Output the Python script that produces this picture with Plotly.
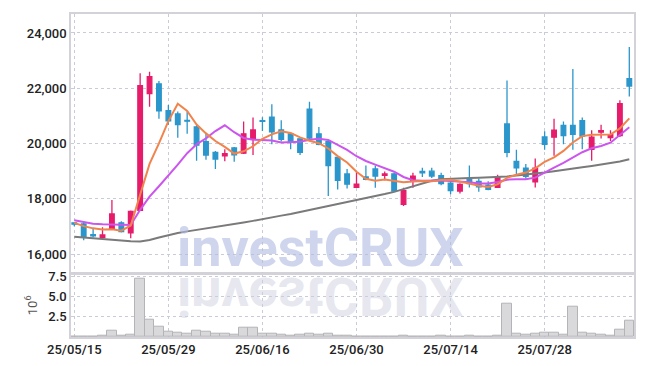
import plotly.graph_objects as go

dates = ["25/05/15","25/05/16","25/05/19","25/05/20","25/05/21","25/05/22","25/05/23","25/05/26","25/05/27","25/05/28",
         "25/05/29","25/05/30","25/06/02","25/06/04","25/06/05","25/06/09","25/06/10","25/06/11","25/06/12","25/06/13",
         "25/06/16","25/06/17","25/06/18","25/06/19","25/06/20","25/06/23","25/06/24","25/06/25","25/06/26","25/06/27",
         "25/06/30","25/07/01","25/07/02","25/07/03","25/07/04","25/07/07","25/07/08","25/07/09","25/07/10","25/07/11",
         "25/07/14","25/07/15","25/07/16","25/07/17","25/07/18","25/07/21","25/07/22","25/07/23","25/07/24","25/07/25",
         "25/07/28","25/07/29","25/07/30","25/07/31","25/08/01","25/08/04","25/08/05","25/08/06","25/08/07","25/08/08"]

opens = [17130,17090,16700,16600,16890,17130,16770,17580,21810,22160,
         21190,21070,20840,20600,20070,19680,19550,19840,19650,20170,
         20830,20950,20490,20350,20170,21240,20350,20070,19500,18900,
         18410,18790,19080,18850,18900,17800,18630,18990,19000,18840,
         18570,18280,18720,18630,18490,18410,20710,19350,19110,18610,
         20240,20230,20660,20660,20830,19790,20410,20210,20290,22350]
highs = [17150,17130,16950,16970,17960,17190,17580,22540,22600,22260,
         21390,21160,21160,20680,20390,19730,19790,19870,20800,20940,
         20950,21420,20840,20390,20190,21510,20600,20120,19550,19080,
         18960,19200,19200,18990,18940,18400,18940,19120,19120,18940,
         18630,18560,19200,18730,18630,18870,22280,19770,19260,19460,
         20440,20900,20800,22700,20940,20480,20680,20480,21570,23490]
lows = [17010,16500,16600,16580,16880,16780,16570,17560,21330,20900,
        20680,20210,20350,19380,19410,19080,19360,19340,19620,19580,
        20450,19970,20070,19790,19580,20140,19940,18100,18340,18370,
        18400,18670,18400,18670,18250,17740,18400,18790,18750,18490,
        18160,18190,18410,18250,18310,18400,19500,18820,18730,18410,
        19770,19560,19970,19770,19790,19380,20180,20090,20240,21700]
closes = [17080,16620,16660,16690,17450,16810,17540,22090,22420,21180,
          20820,20680,20810,19940,19580,19440,19630,19590,20350,20490,
          20800,20420,20150,20050,19680,20200,19970,19200,18670,18530,
          18530,18700,18820,18900,18280,18290,18820,18940,18820,18550,
          18300,18520,18550,18430,18340,18790,19680,19120,18810,19110,
          19970,20480,20290,20330,20270,20230,20470,20320,21440,22080]

# volume in millions of shares
volume_m = [0.08,0.10,0.10,0.12,0.82,0.20,0.30,7.16,2.16,1.22,
            0.61,0.49,0.37,0.80,0.60,0.37,0.37,0.30,1.20,1.20,
            0.45,0.45,0.28,0.20,0.25,0.45,0.33,0.35,0.20,0.15,
            0.10,0.08,0.08,0.10,0.08,0.15,0.08,0.06,0.06,0.15,
            0.05,0.05,0.15,0.05,0.05,0.15,4.10,0.37,0.30,0.37,
            0.57,0.57,0.30,3.70,0.57,0.37,0.30,0.20,0.94,2.07]

ma5_head = [17130, 17010, 16930, 16890]
ma10_head = [17220, 17150, 17100, 17080, 17070, 17060, 17050, 17600, 18080]
# long moving average (grey)
ma_long = [16630,16600,16570,16540,16510,16485,16465,16455,16510,16600,
           16690,16760,16820,16870,16920,16980,17030,17080,17140,17200,
           17270,17330,17390,17450,17520,17590,17660,17740,17810,17880,
           17950,18020,18090,18170,18250,18350,18450,18560,18650,18710,
           18730,18740,18750,18760,18770,18790,18810,18840,18870,18910,
           18950,19000,19040,19090,19140,19190,19240,19290,19350,19430]

tick_idx = [0, 10, 20, 30, 40, 50]
price_ticks = [16000, 18000, 20000, 22000, 24000]
vol_ticks = [2.5, 5.0, 7.5]

ma5 = ma5_head + [sum(closes[i-4:i+1]) / 5 for i in range(4, len(closes))]
ma10 = ma10_head + [sum(closes[i-9:i+1]) / 10 for i in range(9, len(closes))]

RED = "#e61c6a"
BLUE = "#2b96cb"
GRID = "#c9cbd8"
AXL = "#d2d2d8"
FONT = "Roboto"
TICKFONT = dict(family=FONT, size=13, color="#222222", weight=500)

fig = go.Figure()

fig.add_trace(go.Candlestick(
    x=dates, open=opens, high=highs, low=lows, close=closes,
    increasing=dict(line=dict(color=RED, width=1.3), fillcolor=RED),
    decreasing=dict(line=dict(color=BLUE, width=1.3), fillcolor=BLUE),
    xaxis="x2", yaxis="y2", showlegend=False, whiskerwidth=0,
))
fig.add_trace(go.Scatter(x=dates, y=ma_long, mode="lines", line=dict(color="#7a7a7a", width=2),
                         xaxis="x2", yaxis="y2", showlegend=False))
fig.add_trace(go.Scatter(x=dates, y=ma10, mode="lines", line=dict(color="#cc55ee", width=2),
                         xaxis="x2", yaxis="y2", showlegend=False))
fig.add_trace(go.Scatter(x=dates, y=ma5, mode="lines", line=dict(color="#f0844c", width=2),
                         xaxis="x2", yaxis="y2", showlegend=False))

fig.add_trace(go.Bar(x=dates, y=volume_m, marker=dict(color="#d9d9db", line=dict(color="#b4b4b8", width=1)),
                     xaxis="x", yaxis="y", showlegend=False))

xr = [-0.35, len(dates) - 0.5]
common_x = dict(type="category", range=xr, showgrid=True, gridcolor=GRID, griddash="dot", gridwidth=1,
                tickmode="array", tickvals=[dates[i] for i in tick_idx],
                showline=True, linecolor=AXL, linewidth=1.5, mirror=True, ticks="", zeroline=False)

fig.update_layout(
    width=645, height=366,
    margin=dict(l=71, r=9, t=9, b=29),
    paper_bgcolor="white", plot_bgcolor="white",
    bargap=0,
    font=dict(family=FONT, size=13, color="#222222"),
    xaxis=dict(**common_x, anchor="y", showticklabels=True, tickfont=TICKFONT),
    xaxis2=dict(**common_x, anchor="y2", matches="x", showticklabels=False,
                rangeslider=dict(visible=False)),
    yaxis=dict(domain=[0, 0.196], range=[0, 7.8], tickmode="array", tickvals=vol_ticks,
               ticktext=["2.5", "5.0", "7.5"], tickfont=TICKFONT,
               showgrid=True, gridcolor=GRID, griddash="dot",
               showline=True, linecolor=AXL, linewidth=1.5, mirror=True, ticks="", zeroline=False,
               title=dict(text="10<sup>6</sup>", font=dict(size=13, color="#555"), standoff=8)),
    yaxis2=dict(domain=[0.199, 1], range=[15324, 24687], tickmode="array", tickvals=price_ticks,
                tickformat=",d", tickfont=TICKFONT, showgrid=True, gridcolor=GRID, griddash="dot",
                showline=True, linecolor=AXL, linewidth=1.5, mirror=True, ticks="", zeroline=False),
    annotations=[
        dict(text="<b>investCRUX</b>", xref="paper", yref="paper", x=0.444, y=0.172,
             xanchor="center", yanchor="bottom", showarrow=False,
             font=dict(family=FONT, size=54, color="rgba(176,188,224,0.62)")),
        dict(text="<b>investCRUX</b>", xref="paper", yref="paper", x=0.444, y=0.230,
             xanchor="center", yanchor="top", showarrow=False,
             font=dict(family=FONT, size=54, color="rgba(205,208,224,0.5)")),
    ],
)

post = """
var gd = document.getElementById('{plot_id}');
function flipRefl(){
  var a = gd.querySelectorAll('g.annotation')[1];
  if(!a) return;
  var t = a.querySelector('text');
  if(!t) return;
  t.style.transformBox = 'fill-box';
  t.style.transformOrigin = '50% 50%';
  t.style.transform = 'scaleY(-1)';
}
flipRefl();
gd.on('plotly_afterplot', flipRefl);
"""

fig.write_html("out.html", post_script=post)
